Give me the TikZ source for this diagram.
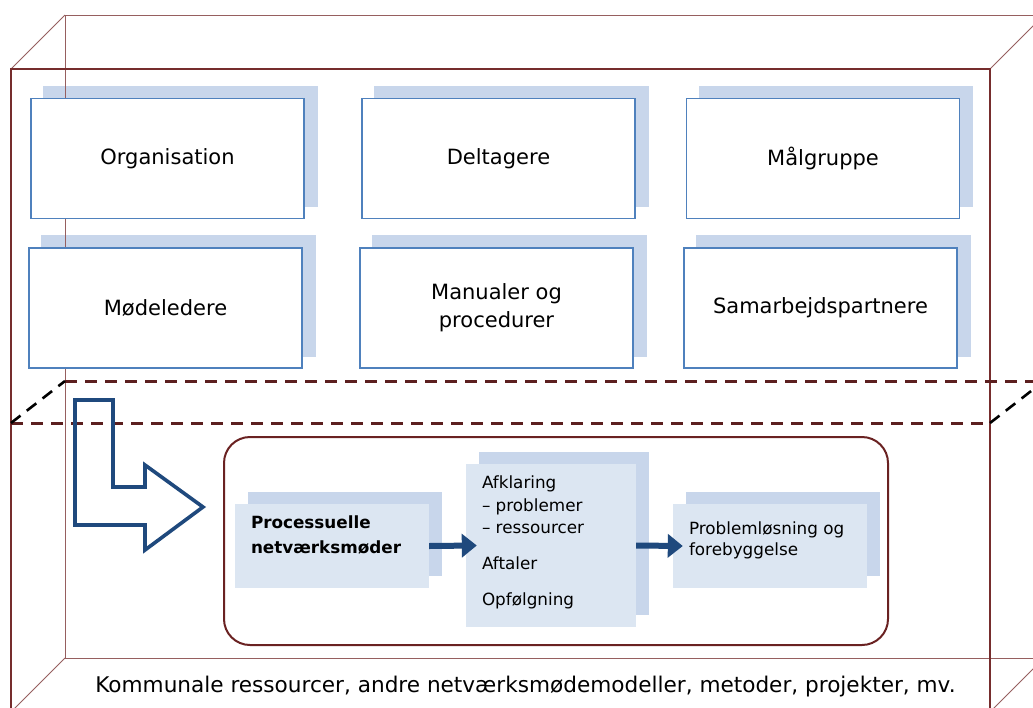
\documentclass[tikz,border=0pt]{standalone}
\usepackage{fontspec}
\setmainfont{DejaVu Sans}
\usetikzlibrary{arrows.meta}
\definecolor{framefront}{RGB}{118,45,45}
\definecolor{frameback}{RGB}{150,95,95}
\definecolor{planered}{RGB}{92,31,31}
\definecolor{boxblue}{RGB}{79,129,189}
\definecolor{shadeblue}{RGB}{200,214,235}
\definecolor{paleblue}{RGB}{220,230,242}
\definecolor{navy}{RGB}{31,73,125}
\definecolor{roundred}{RGB}{106,34,34}
\pgfdeclarelayer{paper}
\pgfdeclarelayer{shadows}
\pgfdeclarelayer{frame}
\pgfsetlayers{paper,shadows,frame,main}
\tikzset{
  topbox/.style={draw=boxblue, line width=1.3pt, fill=white, minimum width=273pt,
    minimum height=120pt, inner sep=0pt, align=center,
    font=\fontsize{21}{28}\selectfont},
  innerbox/.style={fill=paleblue, inner sep=0pt},
  innertext/.style={anchor=north west, inner sep=0pt, align=left,
    font=\fontsize{16.8}{22.5}\selectfont},
  flowarrow/.style={navy, line width=6pt, -{Triangle[length=15pt,width=23pt]}},
  planedash/.style={planered, line width=3pt, dash pattern=on 12pt off 8pt},
  diagdash/.style={black, line width=2.6pt, dash pattern=on 12pt off 8pt},
}
\newcommand{\boxshadow}[1]{%
  \fill[shadeblue] ([shift={(13,-12)}]#1.south west) rectangle ([shift={(13,-12)}]#1.north east);}
\begin{document}
\begin{tikzpicture}[x=1pt,y=-1pt]
\useasboundingbox (0,0) rectangle (1033,707);
\clip (0,0) rectangle (1033,707);
\begin{pgfonlayer}{paper}
  \fill[white] (0,0) rectangle (1033,707);
\end{pgfonlayer}

% upper level: six framework boxes
\node[topbox] (org) at (167.5,158.5) {Organisation};
\node[topbox] (delt) at (498.5,158.5) {Deltagere};
\node[topbox] (maal) at (823,158.5) {Målgruppe};
\node[topbox] (mode) at (165.5,308) {Mødeledere};
\node[topbox] (manu) at (496.5,308) {Manualer og\\procedurer};
\node[topbox] (samb) at (820.5,308) {Samarbejdspartnere};

% lower level: process frame with its three steps
\node[draw=roundred, line width=2pt, rounded corners=26pt, minimum width=664pt,
  minimum height=208pt, inner sep=0pt] (procframe) at (556,541) {};
\node[innerbox, minimum width=194pt, minimum height=84pt] (proc) at (332,546) {};
\node[innerbox, minimum width=170pt, minimum height=163pt] (afk) at (551,545.5) {};
\node[innerbox, minimum width=194pt, minimum height=84pt] (losn) at (770,546) {};

\node[innertext, font=\fontsize{16.8}{25}\selectfont\bfseries] (proct)
  at ([shift={(16,12)}]proc.north west) {Processuelle\\netværksmøder};
\node[innertext] (afkt) at ([shift={(16,12)}]afk.north west)
  {Afklaring\\– problemer\\– ressourcer\\[13.5pt]Aftaler\\[13.5pt]Opfølgning};
\node[innertext, font=\fontsize{16.8}{21}\selectfont] (losnt)
  at ([shift={(16,18)}]losn.north west) {Problemløsning og\\forebyggelse};

\draw[flowarrow] (proc.east) -- ([xshift=11pt]afk.west);
\draw[flowarrow] (afk.east) -- ([xshift=10pt]losn.west);

% caption along the floor of the box
\node[anchor=base, inner sep=0pt, font=\fontsize{21.6}{24}\selectfont] (caption)
  at (525.5,692) {Kommunale ressourcer, andre netværksmødemodeller, metoder, projekter, mv.};

% L-shaped arrow leading down into the process level
\draw[navy, line width=3.6pt, line join=miter]
  (75,400) -- (113,400) -- (113,487) -- (145,487) -- (145,465) -- (203,507)
  -- (145,550) -- (145,525) -- (75,525) -- cycle;

% drop shadows behind the boxes
\begin{pgfonlayer}{shadows}
  \foreach \b in {org,delt,maal,mode,manu,samb,proc,afk,losn}{\boxshadow{\b}}
\end{pgfonlayer}

% open box outline and the dashed dividing plane
\begin{pgfonlayer}{frame}
  \draw[frameback, line width=1pt] (1100,15) -- (65,15) -- (65,658) -- (1100,658);
  \draw[frameback, line width=1pt] (65,15) -- (11,69);
  \draw[frameback, line width=1pt] (990,69) -- (1044,15);
  \draw[frameback, line width=1pt] (65,658) -- (11,712);
  \draw[frameback, line width=1pt] (1044,658) -- (990,712);
  \draw[framefront, line width=1.2pt] (11,720) -- (11,69) -- (990,69) -- (990,720);
  \draw[planedash] (65,381) -- (1040,381);
  \draw[planedash] (11,423) -- (990,423);
  \draw[diagdash] (11,423) -- (65,381);
  \draw[diagdash] (990,423) -- (1044,381);
\end{pgfonlayer}
\end{tikzpicture}
\end{document}
